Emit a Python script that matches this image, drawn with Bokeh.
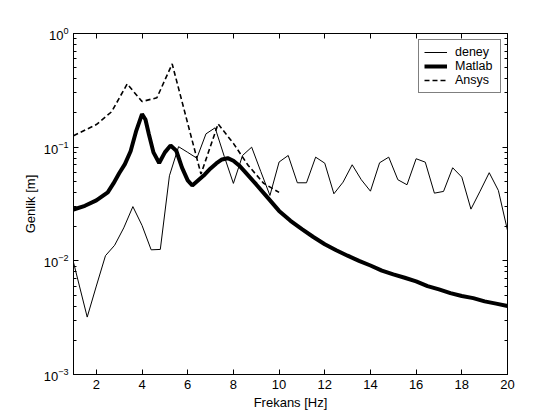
from bokeh.plotting import figure
from bokeh.models import (Range1d, LinearAxis, LogAxis, FixedTicker, LogTicker,
                          Legend, LegendItem, CustomJSTickFormatter)
from bokeh.embed import file_html
from bokeh.resources import INLINE

# ---- data ----
deney_f = [1.0, 1.6, 2.0, 2.4, 2.8, 3.2, 3.6, 4.0, 4.4, 4.8, 5.2, 5.6, 6.0, 6.4,
           6.8, 7.2, 7.6, 8.0, 8.4, 8.8, 9.2, 9.6, 10.0, 10.4, 10.8, 11.2, 11.6,
           12.0, 12.4, 12.8, 13.2, 13.6, 14.0, 14.4, 14.8, 15.2, 15.6, 16.0, 16.4,
           16.8, 17.2, 17.6, 18.0, 18.4, 18.8, 19.2, 19.6, 20.0]
deney_y = [0.0097, 0.0032, 0.0060, 0.0111, 0.0137, 0.0195, 0.030, 0.0205, 0.0125,
           0.0126, 0.056, 0.101, 0.090, 0.080, 0.131, 0.148, 0.083, 0.048, 0.0845,
           0.100, 0.061, 0.0376, 0.074, 0.0845, 0.0486, 0.0486, 0.0817, 0.0723,
           0.0389, 0.0492, 0.070, 0.0517, 0.0410, 0.0729, 0.0817, 0.0517, 0.0467,
           0.0791, 0.0738, 0.0394, 0.0408, 0.0659, 0.0545, 0.0285, 0.0410, 0.0596,
           0.0416, 0.0185]

matlab_f = [1.0, 1.5, 2.0, 2.5, 2.75, 3.0, 3.25, 3.5, 3.75, 4.0, 4.15, 4.3, 4.5,
            4.75, 5.0, 5.25, 5.5, 5.75, 6.0, 6.2, 6.5, 6.75, 7.0, 7.25, 7.5, 7.75,
            8.0, 8.25, 8.5, 9.0, 9.5, 10.0, 10.5, 11.0, 11.5, 12.0, 12.5, 13.0,
            13.5, 14.0, 14.5, 15.0, 15.5, 16.0, 16.5, 17.0, 17.5, 18.0, 18.5, 19.0,
            19.5, 20.0]
matlab_y = [0.0283, 0.0305, 0.034, 0.040, 0.048, 0.059, 0.071, 0.092, 0.140, 0.195,
            0.175, 0.130, 0.090, 0.0725, 0.090, 0.1035, 0.093, 0.066, 0.051, 0.046,
            0.052, 0.0575, 0.065, 0.072, 0.078, 0.080, 0.076, 0.069, 0.061, 0.047,
            0.036, 0.0275, 0.0225, 0.019, 0.0162, 0.0140, 0.0124, 0.0111, 0.0100,
            0.0091, 0.0082, 0.0076, 0.0071, 0.0066, 0.0060, 0.0056, 0.0052, 0.0049,
            0.0047, 0.0044, 0.0042, 0.0040]

ansys_f = [1.0, 2.0, 2.67, 3.35, 4.0, 4.65, 5.32, 6.58, 7.33, 8.0, 8.65, 9.33, 10.0]
ansys_y = [0.126, 0.158, 0.205, 0.36, 0.252, 0.272, 0.54, 0.058, 0.16, 0.108,
           0.069, 0.048, 0.040]

x_ticks = [2, 4, 6, 8, 10, 12, 14, 16, 18, 20]

FONT = "Liberation Sans"

p = figure(width=560, height=420, output_backend="svg", toolbar_location=None,
           y_axis_type="log", x_range=Range1d(1, 20), y_range=Range1d(1e-3, 1.0),
           min_border_left=73, min_border_right=53, min_border_top=33,
           min_border_bottom=46)
p.background_fill_color = "white"
p.border_fill_color = "white"
p.outline_line_color = "black"
p.outline_line_width = 1
p.xgrid.visible = False
p.ygrid.visible = False

r_deney = p.line(deney_f, deney_y, line_color="black", line_width=1)
r_matlab = p.line(matlab_f, matlab_y, line_color="black", line_width=4)
r_ansys = p.line(ansys_f, ansys_y, line_color="black", line_width=1.6,
                 line_dash="5 3")

def style(ax):
    ax.axis_line_color = "black"
    ax.major_tick_line_color = "black"
    ax.minor_tick_line_color = "black"
    ax.major_tick_in = 5
    ax.major_tick_out = 0
    ax.major_label_text_font = FONT
    ax.major_label_text_color = "black"
    ax.major_label_text_font_size = "13px"

xa = p.xaxis[0]
xa.ticker = FixedTicker(ticks=x_ticks)
style(xa)
xa.minor_tick_in = 0
xa.minor_tick_out = 0
xa.major_label_standoff = 5
xa.axis_label = "Frekans [Hz]"
xa.axis_label_text_font = FONT
xa.axis_label_text_font_size = "13px"
xa.axis_label_text_font_style = "normal"
xa.axis_label_text_color = "black"
xa.axis_label_standoff = 3

ya = p.yaxis[0]
ya.ticker = LogTicker(num_minor_ticks=10)
style(ya)
ya.minor_tick_in = 3
ya.minor_tick_out = 0
ya.major_label_standoff = 5
ya.axis_label = "Genlik [m]"
ya.axis_label_text_font = FONT
ya.axis_label_text_font_size = "13px"
ya.axis_label_text_font_style = "normal"
ya.axis_label_text_color = "black"
ya.axis_label_standoff = 3

top = LinearAxis(ticker=FixedTicker(ticks=x_ticks),
                 formatter=CustomJSTickFormatter(code="return ''"))
style(top)
top.minor_tick_in = 0
top.minor_tick_out = 0
top.major_label_standoff = 0
p.add_layout(top, "above")

right = LogAxis(ticker=LogTicker(num_minor_ticks=10),
                formatter=CustomJSTickFormatter(code="return ''"))
style(right)
right.minor_tick_in = 3
right.minor_tick_out = 0
right.major_label_standoff = 0
p.add_layout(right, "right")

legend = Legend(items=[LegendItem(label="deney", renderers=[r_deney]),
                       LegendItem(label="Matlab", renderers=[r_matlab]),
                       LegendItem(label="Ansys", renderers=[r_ansys])],
                location="top_right")
legend.margin = 6
legend.padding = 5
legend.spacing = 0
legend.label_height = 14
legend.glyph_height = 14
legend.glyph_width = 23
legend.label_width = 40
legend.label_standoff = 8
legend.label_text_font = FONT
legend.label_text_font_size = "12.5px"
legend.label_text_color = "black"
legend.border_line_color = "black"
legend.border_line_width = 1
legend.background_fill_color = "white"
legend.background_fill_alpha = 1.0
p.add_layout(legend)

open("out.html", "w").write(file_html(p, INLINE))
